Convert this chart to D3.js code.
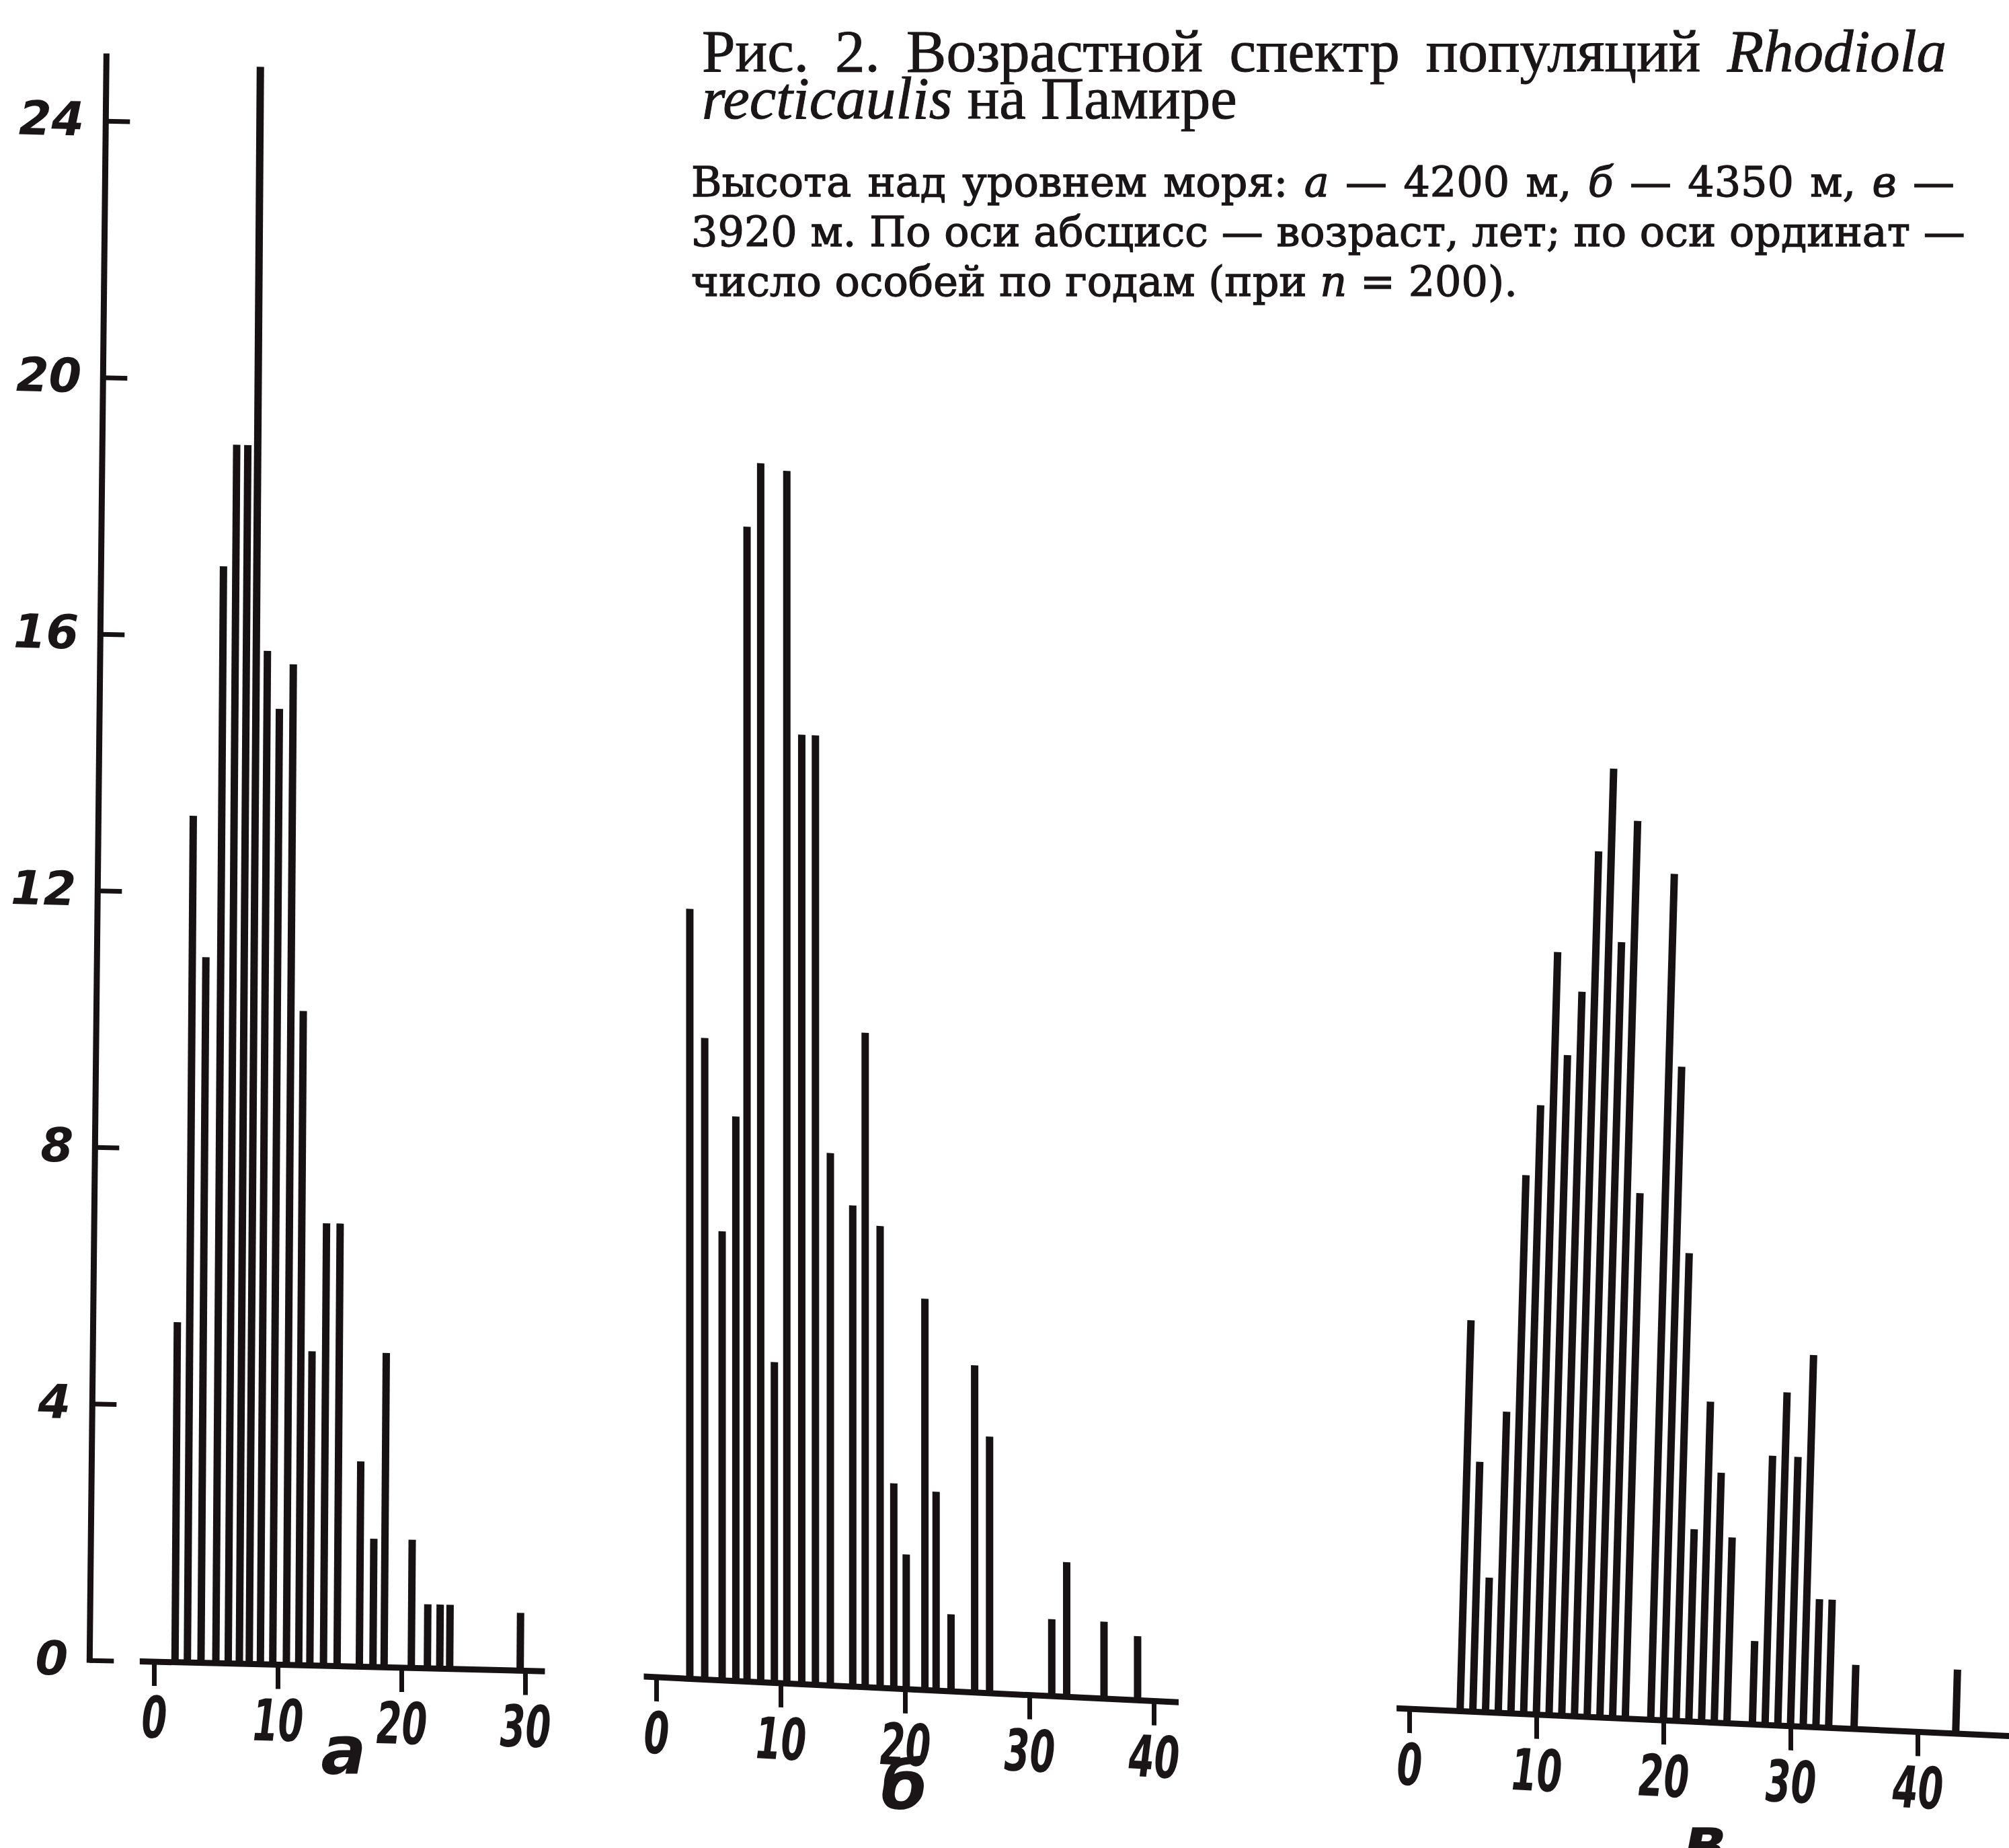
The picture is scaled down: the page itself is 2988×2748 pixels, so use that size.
<!DOCTYPE html>
<html lang="ru">
<head>
<meta charset="utf-8">
<title>Возрастной спектр популяций Rhodiola recticaulis</title>
<script src="https://cdn.jsdelivr.net/npm/d3@7"></script>
<style>
  html, body { margin: 0; padding: 0; background: #fff; }
  svg { display: block; }
  .title { font-family: "Liberation Serif", "DejaVu Serif", serif; fill: #1a1517; stroke: #1a1517; stroke-width: 1px; }
  .cap { font-family: "DejaVu Serif", "Liberation Serif", serif; fill: #1a1517; stroke: #1a1517; stroke-width: 1.3px; }
  .hand { font-family: "DejaVu Sans", "Liberation Sans", sans-serif; font-style: italic; font-weight: bold; fill: #1a1517; }
</style>
</head>
<body>
<div id="chart"></div>
<script>
// number of plants per age (years);
// ages are where the bars stand on the drawn axis
const agesA = [1.7, 2.7, 3.8, 5.0, 6.0, 6.9, 7.7, 8.6, 9.6, 10.7, 11.7, 12.6, 13.7, 14.8, 16.6, 17.7, 18.6, 20.8, 22.1, 23.1, 23.9, 29.6];
const countsA = [5.3, 13.2, 11, 17.1, 19, 19, 24.9, 15.8, 14.9, 15.6, 10.2, 4.9, 6.9, 6.9, 3.2, 2, 4.9, 2, 1, 1, 1, 0.9];

const agesB = [2.7, 3.9, 5.3, 6.4, 7.3, 8.4, 9.5, 10.5, 11.7, 12.8, 14.0, 15.8, 16.8, 18.0, 19.1, 20.1, 21.6, 22.5, 23.7, 25.6, 26.8, 31.8, 33.0, 36.0, 38.7];
const countsB = [12, 10, 7, 8.8, 18, 19, 5, 18.9, 14.8, 14.8, 8.3, 7.5, 10.2, 7.2, 3.2, 2.1, 6.1, 3.1, 1.2, 5.1, 4, 1.2, 2.1, 1.2, 1];

const agesC = [4, 5, 6, 7, 8, 9, 10, 11, 12, 13, 14, 15, 16, 17, 19, 20, 21, 22, 23, 24, 25, 27, 28, 29, 30, 31, 32, 33, 35, 43];
const countsC = [6.1, 3.9, 2.1, 4.7, 8.4, 9.5, 11.9, 10.3, 11.3, 13.5, 14.8, 12.1, 14, 8.2, 13.2, 10.2, 7.3, 3, 5, 3.9, 2.9, 1.3, 4.2, 5.2, 4.2, 5.8, 2, 2, 1, 1];

const yTicks = [0, 4, 8, 12, 16, 20, 24];
const yTop = 25.05;
const xTicksA = [0, 10, 20, 30];
const xTicksBC = [0, 10, 20, 30, 40];
const panelLetters = ['а', 'б', 'в'];

// caption text, italic parts flagged
const titleLines = [
  [{ t: 'Рис. 2. Возрастной спектр популяций ' }, { t: 'Rhodiola', i: true }],
  [{ t: 'recticaulis', i: true }, { t: ' на Памире' }]
];
const captionLines = [
  [{ t: 'Высота над уровнем моря: ' }, { t: 'а', i: true }, { t: ' — 4200 м, ' }, { t: 'б', i: true }, { t: ' — 4350 м, ' }, { t: 'в', i: true }, { t: ' —' }],
  [{ t: '3920 м. По оси абсцисс — возраст, лет; по оси ординат —' }],
  [{ t: 'число особей по годам (при ' }, { t: 'n', i: true }, { t: ' = 200).' }]
];

// layout
const W = 2988, H = 2748;
const INK = '#161113';
const unitPx = 95.4;
const barW = 11;
const panels = [
  { ages: agesA, counts: countsA, ticks: xTicksA, ox: 229, oy: 2471, pxYear: 18.4, from: -1.15, to: 31.6, skewY: 1.4, lean: -0.4, lx: 511, ly: 2638, yAxisAt: -5.2 },
  { ages: agesB, counts: countsB, ticks: xTicksBC, ox: 976, oy: 2494, pxYear: 18.5, from: -1, to: 42, skewY: 2.75, lean: 0, lx: 1345, ly: 2690 },
  { ages: agesC, counts: countsC, ticks: xTicksBC, ox: 2096, oy: 2541, pxYear: 18.9, from: -1, to: 48, skewY: 2.6, lean: -1.6, lx: 2535, ly: 2772 }
];

const svg = d3.select('#chart').append('svg')
  .attr('width', W)
  .attr('height', H);
svg.append('rect').attr('width', W).attr('height', H).attr('fill', '#fff');

// shared y scale (plants), going up from each baseline
const y = d3.scaleLinear().domain([0, 24]).range([0, -24 * unitPx]);

panels.forEach((p, k) => {
  const x = d3.scaleLinear().domain([0, 10]).range([0, 10 * p.pxYear]);
  // hand-drawn baselines slope down to the right
  const g = svg.append('g')
    .attr('transform', 'translate(' + p.ox + ',' + p.oy + ') skewY(' + p.skewY + ')');

  // bars (slight lean as drawn)
  g.append('g')
    .attr('transform', 'skewX(' + p.lean + ')')
    .selectAll('.bar')
    .data(p.ages.map((a, i) => ({ age: a, n: p.counts[i] })))
    .enter()
    .append('rect')
    .attr('class', 'bar')
    .attr('x', d => x(d.age) - barW / 2)
    .attr('y', d => y(d.n))
    .attr('width', barW)
    .attr('height', d => -y(d.n))
    .attr('fill', INK);

  // x axis: baseline + ticks
  g.append('line')
    .attr('x1', x(p.from))
    .attr('x2', x(p.to))
    .attr('stroke', INK)
    .attr('stroke-width', 9);
  const xAxis = g.append('g')
    .call(d3.axisBottom(x).tickValues(p.ticks).tickSize(36).tickPadding(16).tickFormat(d3.format('d')));
  xAxis.select('.domain').remove();
  xAxis.selectAll('.tick line').attr('stroke', INK).attr('stroke-width', 7);
  xAxis.attr('font-size', 86);
  xAxis.selectAll('.tick text')
    .attr('class', 'hand')
    .attr('textLength', d => String(d).length * 38)
    .attr('lengthAdjust', 'spacingAndGlyphs');

  // y axis only on the first panel
  if (p.yAxisAt !== undefined) {
    const yAxis = g.append('g')
      .attr('transform', 'translate(' + x(p.yAxisAt) + ',0) skewX(-0.6)')
      .call(d3.axisLeft(y).tickValues(yTicks).tickSize(-36).tickSizeOuter(0).tickPadding(32).tickFormat(d3.format('d')));
    yAxis.select('.domain').remove();
    yAxis.append('line')
      .attr('y1', 4)
      .attr('y2', y(yTop))
      .attr('stroke', INK)
      .attr('stroke-width', 9);
    yAxis.selectAll('.tick line').attr('stroke', INK).attr('stroke-width', 7);
    yAxis.attr('font-size', 70);
    yAxis.selectAll('.tick text').attr('class', 'hand');
  }

  // panel letter
  svg.append('text')
    .attr('class', 'hand')
    .attr('x', p.lx)
    .attr('y', p.ly)
    .attr('text-anchor', 'middle')
    .attr('font-size', 100)
    .text(panelLetters[k]);
});

// caption block; justified lines get their width by word spacing
function textLine(cls, parts, x0, y0, size, width) {
  const t = svg.append('text')
    .attr('class', cls)
    .attr('x', x0)
    .attr('y', y0)
    .attr('font-size', size);
  parts.forEach(s => {
    t.append('tspan')
      .attr('font-style', s.i ? 'italic' : 'normal')
      .text(s.t);
  });
  if (width) {
    const nat = t.node().getComputedTextLength();
    const spaces = parts.map(s => s.t).join('').split(' ').length - 1;
    t.attr('word-spacing', Math.max(0, (width - nat) / spaces));
  }
}
textLine('title', titleLines[0], 1044, 106, 89, 1851);
textLine('title', titleLines[1], 1044, 176, 89, null);
textLine('cap', captionLines[0], 1028, 292, 62, 1879);
textLine('cap', captionLines[1], 1028, 366, 62, 1886);
textLine('cap', captionLines[2], 1028, 440, 62, null);
</script>
</body>
</html>
